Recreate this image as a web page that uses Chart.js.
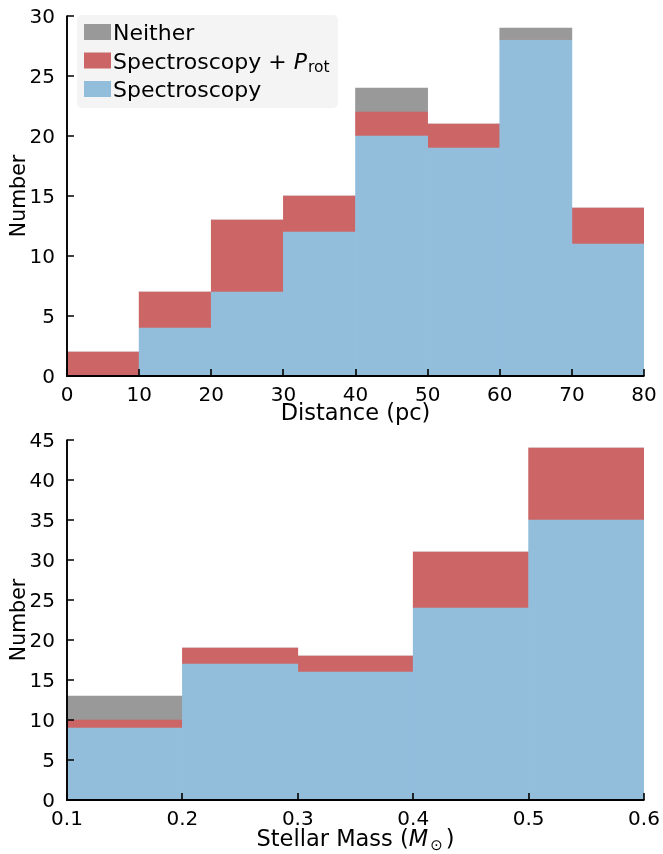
<!DOCTYPE html>
<html><head><meta charset="utf-8">
<script src="https://cdn.jsdelivr.net/npm/chart.js@4/dist/chart.umd.min.js"></script>
<style>
html,body{margin:0;padding:0;background:#fff;overflow:hidden;}
.panel{position:relative;width:663px;height:427px;}
canvas{display:block;}
</style></head><body>
<div class="panel"><canvas id="dist" width="663" height="427"></canvas></div>
<div class="panel"><canvas id="mass" width="663" height="427"></canvas></div>
<script>
// Distance histogram (bin centres, 10 pc wide)
const distBins = [5, 15, 25, 35, 45, 55, 65, 75];
const distSpec = [0, 4, 7, 12, 20, 19, 28, 11];
const distSpecProt = [2, 3, 6, 3, 2, 2, 0, 3];
const distNeither = [0, 0, 0, 0, 2, 0, 1, 0];
const distTicksX = [0, 10, 20, 30, 40, 50, 60, 70, 80];
const distTicksY = [0, 5, 10, 15, 20, 25, 30];

// Stellar mass histogram (bin centres, 0.1 Msun wide)
const massBins = [0.15, 0.25, 0.35, 0.45, 0.55];
const massSpec = [9, 17, 16, 24, 35];
const massSpecProt = [1, 2, 2, 7, 9];
const massNeither = [3, 0, 0, 0, 0];
const massTicksX = [0.1, 0.2, 0.3, 0.4, 0.5, 0.6];
const massTicksY = [0, 5, 10, 15, 20, 25, 30, 35, 40, 45];

const legendLabels = ['Neither', 'Spectroscopy + ', 'Spectroscopy'];
const COLORS = { spec: '#92bedc', prot: '#cc6666', neither: '#999999' };
const FONT = 'DejaVu Sans';

function pts(xs, ys) { return xs.map((x, i) => ({ x: x, y: ys[i] })); }

// inward ticks, spines, axis titles and legend
const decorations = {
  id: 'decorations',
  afterDatasetsDraw(chart, args, opts) {
    const ctx = chart.ctx, a = chart.chartArea;
    const xs = chart.scales.x, ys = chart.scales.y;
    ctx.save();
    ctx.strokeStyle = '#000';
    ctx.lineWidth = 1.6;
    ctx.beginPath();
    xs.ticks.forEach(t => {
      const p = Math.round(xs.getPixelForValue(t.value));
      ctx.moveTo(p, a.bottom); ctx.lineTo(p, a.bottom - 7);
    });
    ys.ticks.forEach(t => {
      const p = Math.round(ys.getPixelForValue(t.value));
      ctx.moveTo(a.left, p); ctx.lineTo(a.left + 7, p);
    });
    ctx.stroke();
    ctx.lineWidth = 1.9;
    ctx.beginPath();
    ctx.moveTo(a.left, a.top - 0.5); ctx.lineTo(a.left, a.bottom); ctx.lineTo(a.right + 0.5, a.bottom);
    ctx.stroke();

    // y title
    ctx.fillStyle = '#000';
    ctx.font = '20.5px "' + FONT + '"';
    ctx.textAlign = 'center'; ctx.textBaseline = 'alphabetic';
    ctx.save();
    ctx.translate(25, (a.top + a.bottom) / 2);
    ctx.rotate(-Math.PI / 2);
    ctx.fillText('Number', 0, 0);
    ctx.restore();

    // x title
    const cx = (a.left + a.right) / 2, ty = opts.titleY;
    if (opts.kind === 'dist') {
      ctx.font = '22.5px "' + FONT + '"';
      ctx.fillText('Distance (pc)', cx, ty);
    } else {
      const parts = [
        { t: 'Stellar Mass (', f: '22.5px "' + FONT + '"', dy: 0 },
        { t: 'M', f: 'italic 22.5px "' + FONT + '"', dy: 0 },
        { t: '\u2299', f: '15px "' + FONT + '"', dy: 4 },
        { t: ')', f: '22.5px "' + FONT + '"', dy: 0 }
      ];
      let w = 0;
      parts.forEach(p => { ctx.font = p.f; p.w = ctx.measureText(p.t).width; w += p.w; });
      w += 5;
      let x = cx - w / 2;
      ctx.textAlign = 'left';
      parts.forEach((p, i) => {
        ctx.font = p.f;
        ctx.fillText(p.t, x + (i === 2 ? 2 : 0), ty + p.dy);
        x += p.w + (i === 2 ? 5 : 0);
      });
    }

    // legend
    if (opts.legend) {
      const lx = 77, ly = 15, lw = 261, lh = 93;
      ctx.fillStyle = '#f4f4f4';
      ctx.beginPath();
      ctx.roundRect(lx, ly, lw, lh, 5);
      ctx.fill();
      const cols = [COLORS.neither, COLORS.prot, COLORS.spec];
      ctx.textAlign = 'left'; ctx.textBaseline = 'alphabetic';
      legendLabels.forEach((lab, i) => {
        const y = 32 + i * 28.5;
        ctx.fillStyle = cols[i];
        ctx.fillRect(84, y - 8, 27, 16);
        ctx.fillStyle = '#000';
        ctx.font = '22px "' + FONT + '"';
        ctx.fillText(lab, 113, y + 8);
        if (i === 1) {
          let x = 113 + ctx.measureText(lab).width;
          ctx.font = 'italic 22px "' + FONT + '"';
          ctx.fillText('P', x, y + 8);
          x += ctx.measureText('P').width + 1;
          ctx.font = '15.5px "' + FONT + '"';
          ctx.fillText('rot', x, y + 11);
        }
      });
    }
    ctx.restore();
  }
};

function makeChart(id, bins, spec, prot, neither, ticksX, ticksY, xmin, xmax, ymax, padTop, xHeight, kind, titleY, fmt) {
  return new Chart(document.getElementById(id), {
    type: 'bar',
    data: {
      datasets: [
        { label: 'Spectroscopy', data: pts(bins, spec), backgroundColor: COLORS.spec },
        { label: 'Spectroscopy + Prot', data: pts(bins, prot), backgroundColor: COLORS.prot },
        { label: 'Neither', data: pts(bins, neither), backgroundColor: COLORS.neither }
      ]
    },
    options: {
      responsive: false,
      animation: false,
      events: [],
      devicePixelRatio: 1,
      layout: { padding: { top: padTop, right: 19, left: 0, bottom: 0 } },
      datasets: { bar: { barPercentage: 1, categoryPercentage: 1, borderWidth: 0, borderSkipped: false } },
      plugins: {
        legend: { display: false },
        tooltip: { enabled: false },
        decorations: { kind: kind, titleY: titleY, legend: kind === 'dist' }
      },
      scales: {
        x: {
          type: 'linear', stacked: true, min: xmin, max: xmax, offset: false,
          grid: { display: false, drawTicks: false },
          border: { display: false },
          afterBuildTicks: s => { s.ticks = ticksX.map(v => ({ value: v })); },
          afterFit: s => { s.height = xHeight; s.paddingLeft = 0; s.paddingRight = 0; },
          ticks: { color: '#000', padding: 8, font: { family: FONT, size: 20 }, maxRotation: 0, autoSkip: false,
                   callback: v => fmt(v) }
        },
        y: {
          stacked: true, min: 0, max: ymax,
          grid: { display: false, drawTicks: false },
          border: { display: false },
          afterBuildTicks: s => { s.ticks = ticksY.map(v => ({ value: v })); },
          afterFit: s => { s.width = 67; s.paddingTop = 0; s.paddingBottom = 0; },
          ticks: { color: '#000', padding: 12, labelOffset: 1.5, font: { family: FONT, size: 20 }, autoSkip: false,
                   callback: v => String(v) }
        }
      }
    },
    plugins: [decorations]
  });
}

makeChart('dist', distBins, distSpec, distSpecProt, distNeither, distTicksX, distTicksY,
  0, 80, 30, 16, 51, 'dist', 420, v => String(v));
makeChart('mass', massBins, massSpec, massSpecProt, massNeither, massTicksX, massTicksY,
  0.1, 0.6, 45, 13, 54, 'mass', 419, v => v.toFixed(1));
</script>
</body></html>
